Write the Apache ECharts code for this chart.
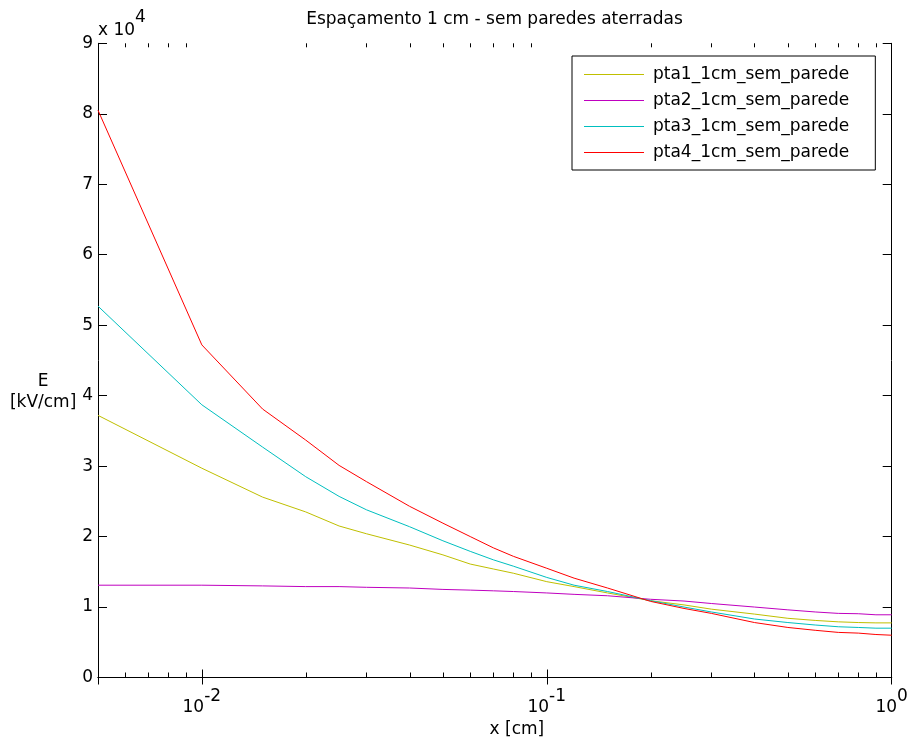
<!DOCTYPE html>
<html>
<head>
<meta charset="utf-8">
<script src="https://cdn.jsdelivr.net/npm/echarts@6/dist/echarts.min.js"></script>
<style>
html,body{margin:0;padding:0;background:#fff;}
#chart{width:909px;height:749px;}
</style>
</head>
<body>
<div id="chart"></div>
<script>
// ---- data ----
const xValues = [0.005, 0.01, 0.015, 0.02, 0.025, 0.03, 0.04, 0.05, 0.06, 0.07, 0.08, 0.1, 0.12, 0.15, 0.2, 0.25, 0.3, 0.4, 0.5, 0.6, 0.7, 0.8, 0.9, 1.0];
const pta1 = [37200, 29700, 25600, 23500, 21500, 20400, 18800, 17400, 16100, 15400, 14800, 13600, 12900, 12000, 10900, 10300, 9700, 9000, 8400, 8100, 7900, 7800, 7750, 7750];
const pta2 = [13100, 13100, 13000, 12900, 12900, 12800, 12700, 12500, 12400, 12300, 12200, 12000, 11800, 11600, 11100, 10850, 10500, 10000, 9600, 9300, 9100, 9050, 8900, 8900];
const pta3 = [52700, 38700, 32700, 28500, 25700, 23800, 21400, 19400, 17900, 16700, 15800, 14200, 13100, 12200, 10900, 10000, 9300, 8300, 7800, 7450, 7200, 7100, 7000, 7000];
const pta4 = [80500, 47200, 38100, 33700, 30100, 27800, 24300, 21900, 20000, 18400, 17200, 15500, 14100, 12700, 10800, 9800, 9100, 7800, 7100, 6700, 6400, 6300, 6100, 6000];
const seriesNames = ['pta1_1cm_sem_parede', 'pta2_1cm_sem_parede', 'pta3_1cm_sem_parede', 'pta4_1cm_sem_parede'];
const seriesColors = ['#bfbf00', '#bf00bf', '#00bfbf', '#ff0000'];
const minorTicks = [0.006, 0.007, 0.008, 0.009, 0.02, 0.03, 0.04, 0.05, 0.06, 0.07, 0.08, 0.09, 0.2, 0.3, 0.4, 0.5, 0.6, 0.7, 0.8, 0.9];
const yMin = 0, yMax = 90000, yStep = 10000, yScale = 10000;
const titleText = 'Espaçamento 1 cm - sem paredes aterradas';
const xName = 'x [cm]';
const yName = '\n\n\nE\n[kV/cm]';

const FONT = 'DejaVu Sans';
const FS = 17;
const allSeries = [pta1, pta2, pta3, pta4];

const chart = echarts.init(document.getElementById('chart'), null, {renderer: 'canvas'});

const lineSeries = allSeries.map((vals, i) => ({
  name: seriesNames[i],
  type: 'line',
  xAxisIndex: 0,
  yAxisIndex: 0,
  data: xValues.map((x, j) => [x, vals[j]]),
  symbol: 'none',
  showSymbol: false,
  color: seriesColors[i],
  lineStyle: {color: seriesColors[i], width: 1},
  z: 3,
  animation: false
}));

const minorSeries = {
  type: 'custom',
  xAxisIndex: 0,
  yAxisIndex: 0,
  silent: true,
  animation: false,
  clip: false,
  data: minorTicks.map(v => [v, yMin]),
  renderItem: function (params, api) {
    const x = api.value(0);
    const b = api.coord([x, yMin]);
    const t = api.coord([x, yMax]);
    const px = Math.round(b[0]) + 0.5;
    return {
      type: 'group',
      children: [
        {type: 'line', shape: {x1: px, y1: b[1], x2: px, y2: b[1] - 5}, style: {stroke: '#000', lineWidth: 1}},
        {type: 'line', shape: {x1: px, y1: t[1], x2: px, y2: t[1] + 4}, style: {stroke: '#000', lineWidth: 1}}
      ]
    };
  }
};

const axisLineStyle = {color: '#000', width: 1};

const option = {
  backgroundColor: '#fff',
  animation: false,
  textStyle: {fontFamily: FONT},
  title: [
    {
      text: titleText,
      left: 494.5,
      top: 11,
      textAlign: 'center',
      padding: 0,
      textStyle: {fontFamily: FONT, fontSize: FS, fontWeight: 'normal', color: '#000'}
    },
    {
      text: '{b|x 10}{s|4}',
      left: 98,
      top: 9,
      padding: 0,
      textStyle: {
        fontFamily: FONT, fontSize: FS, fontWeight: 'normal', color: '#000',
        rich: {
          b: {fontFamily: FONT, fontSize: FS, color: '#000', padding: [13, 0, 0, 0], verticalAlign: 'bottom'},
          s: {fontFamily: FONT, fontSize: FS, color: '#000', verticalAlign: 'top'}
        }
      }
    }
  ],
  legend: {
    data: seriesNames,
    orient: 'vertical',
    left: 572,
    top: 56,
    padding: [10, 26, 9, 12],
    icon: 'rect',
    itemWidth: 60,
    itemHeight: 1,
    itemGap: 9,
    borderColor: '#000',
    borderWidth: 1,
    borderRadius: 0,
    backgroundColor: '#fff',
    textStyle: {fontFamily: FONT, fontSize: FS, color: '#000', padding: [0, 0, 0, 4]},
    selectedMode: false
  },
  grid: {
    left: 98,
    right: 17.3,
    top: 43.3,
    bottom: 71.5,
    containLabel: false,
    outerBoundsMode: 'none',
    show: false
  },
  xAxis: [
    {
      type: 'log',
      logBase: 10,
      min: 0.005,
      max: 1,
      position: 'bottom',
      axisLine: {show: true, lineStyle: axisLineStyle},
      axisTick: {show: true, inside: true, length: 8, lineStyle: axisLineStyle},
      splitLine: {show: false},
      minorTick: {show: false},
      axisLabel: {
        show: true,
        margin: 11,
        showMinLabel: false,
        hideOverlap: false,
        color: '#000',
        fontFamily: FONT,
        fontSize: FS,
        formatter: function (v) {
          const e = Math.round(Math.log10(v));
          if (Math.abs(Math.log10(v) - e) > 1e-6) return '';
          return '{b|10}{s|' + e + '}';
        },
        rich: {
          b: {fontFamily: FONT, fontSize: FS, color: '#000', padding: [11, 0, 0, 0], verticalAlign: 'bottom'},
          s: {fontFamily: FONT, fontSize: FS, color: '#000', verticalAlign: 'top'}
        }
      },
      name: xName,
      nameLocation: 'middle',
      nameGap: 33,
      nameTextStyle: {fontFamily: FONT, fontSize: FS, color: '#000', padding: [0, 0, 0, 44]}
    },
    {
      type: 'log',
      logBase: 10,
      min: 0.005,
      max: 1,
      position: 'top',
      axisLine: {show: true, lineStyle: axisLineStyle},
      axisTick: {show: true, inside: true, length: 7, lineStyle: axisLineStyle},
      splitLine: {show: false},
      axisLabel: {show: false}
    }
  ],
  yAxis: [
    {
      type: 'value',
      min: yMin,
      max: yMax,
      interval: yStep,
      position: 'left',
      axisLine: {show: true, lineStyle: axisLineStyle},
      axisTick: {show: true, inside: true, length: 9, lineStyle: axisLineStyle},
      splitLine: {show: false},
      axisLabel: {
        show: true,
        margin: 5,
        color: '#000',
        fontFamily: FONT,
        fontSize: FS,
        hideOverlap: false,
        formatter: function (v) { return String(Math.round(v / yScale)); }
      },
      name: yName,
      nameLocation: 'middle',
      nameRotate: 0,
      nameGap: 48,
      nameTextStyle: {fontFamily: FONT, fontSize: FS, color: '#000', align: 'center', verticalAlign: 'middle', lineHeight: 21}
    },
    {
      type: 'value',
      min: yMin,
      max: yMax,
      interval: yStep,
      position: 'right',
      axisLine: {show: true, lineStyle: axisLineStyle},
      axisTick: {show: true, inside: true, length: 9, lineStyle: axisLineStyle},
      splitLine: {show: false},
      axisLabel: {show: false}
    }
  ],
  series: lineSeries.concat([minorSeries])
};

chart.setOption(option);
</script>
</body>
</html>
